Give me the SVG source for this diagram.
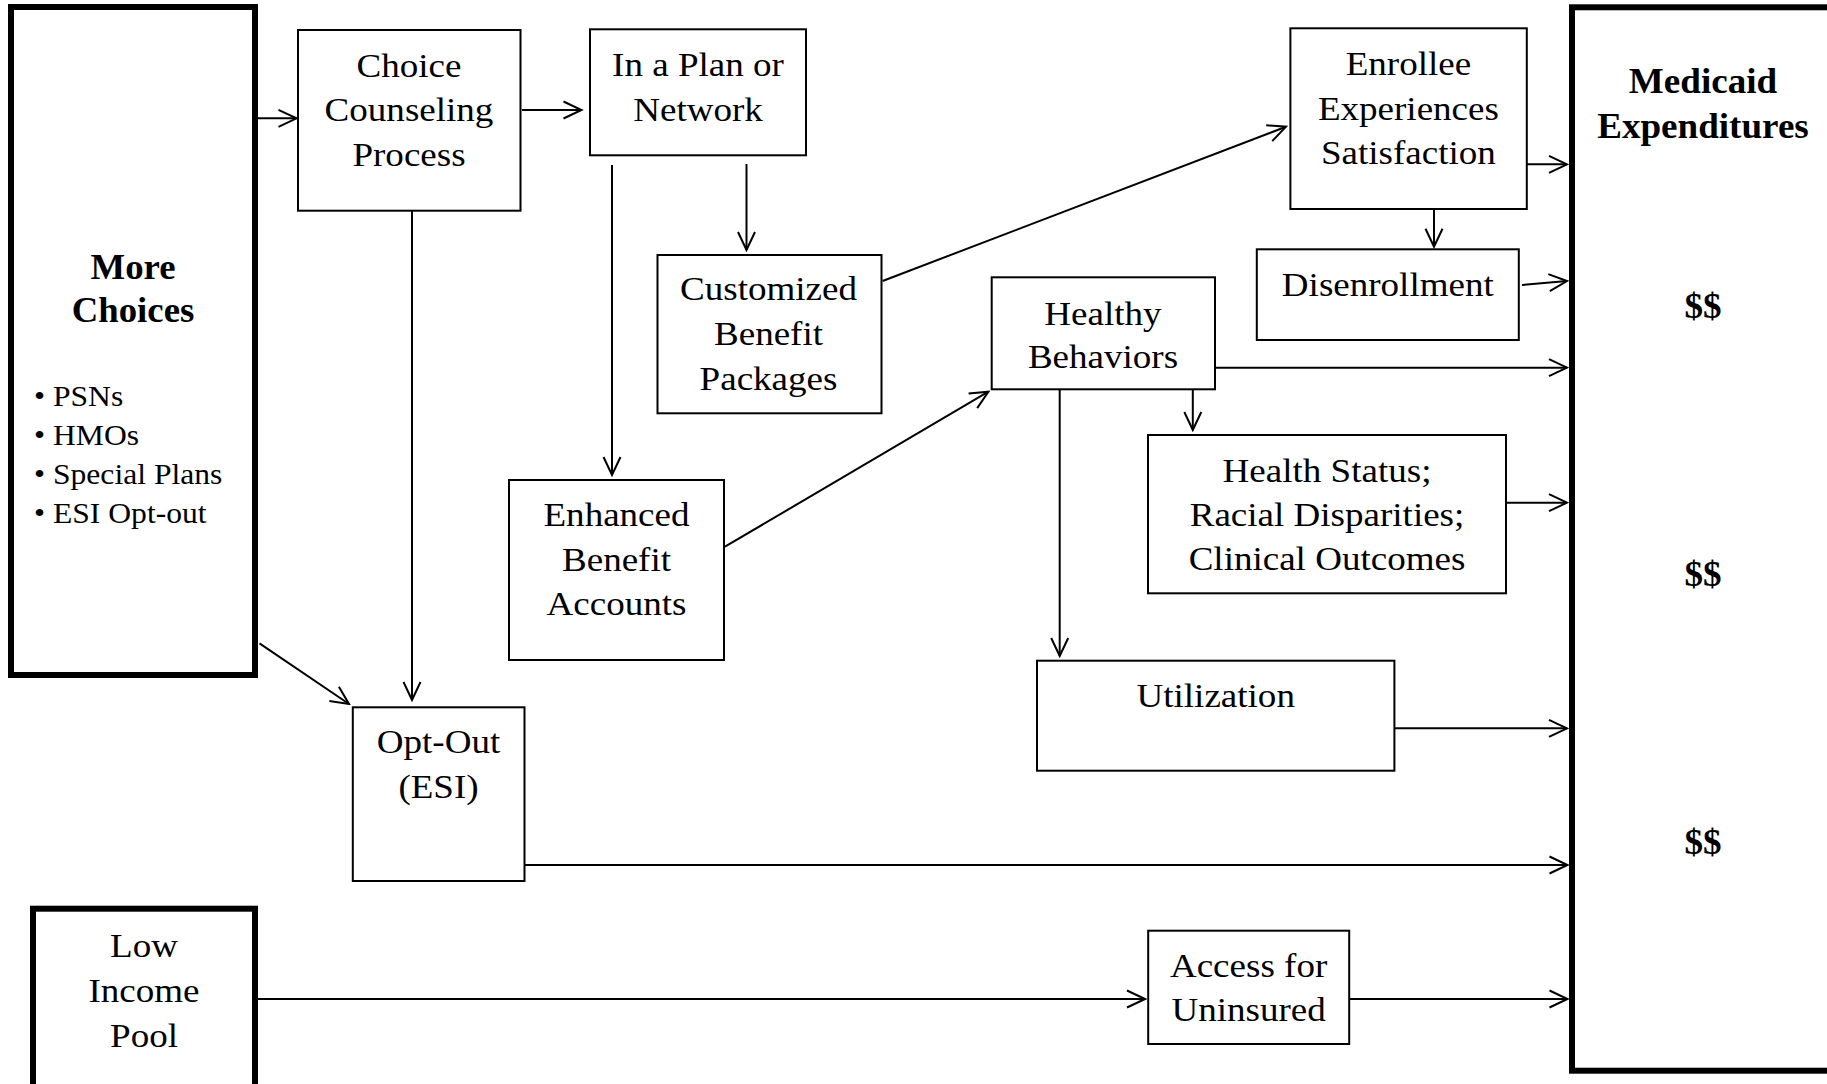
<svg xmlns="http://www.w3.org/2000/svg" width="1827" height="1084" viewBox="0 0 1827 1084">
<style>
  rect.box { fill: #fff; stroke: #000; stroke-width: 2; }
  rect.thick { fill: #fff; stroke: #000; stroke-width: 6; }
  text { font-family: "Liberation Serif", "Times New Roman", serif; fill: #000; }
  .t { font-size: 34px; text-anchor: middle; }
  .b { font-size: 35px; font-weight: bold; text-anchor: middle; }
  .bl { font-size: 29px; text-anchor: start; }
  #connectors line { stroke: #000; stroke-width: 2; fill: none; marker-end: url(#arr); }
</style>
<defs>
  <marker id="arr" markerUnits="userSpaceOnUse" viewBox="-21 -11 23 22" refX="0" refY="0" markerWidth="23" markerHeight="22" orient="auto">
    <path d="M-18,-8.5 L0,0 L-18,8.5" fill="none" stroke="#000" stroke-width="2"/>
  </marker>
</defs>
<rect x="0" y="0" width="1827" height="1084" fill="#fff"/>

<g id="connectors">
  <line x1="257" y1="118.3" x2="296.5" y2="118.3"/>
  <line x1="522" y1="110" x2="581.5" y2="110"/>
  <line x1="612" y1="165" x2="612" y2="475"/>
  <line x1="746.5" y1="164" x2="746.5" y2="250"/>
  <line x1="882.6" y1="281" x2="1286" y2="126.7"/>
  <line x1="725" y1="546.7" x2="988.4" y2="391.7"/>
  <line x1="412" y1="210.7" x2="412" y2="700"/>
  <line x1="259.5" y1="643.3" x2="349" y2="704"/>
  <line x1="1527" y1="164.3" x2="1567" y2="164.3"/>
  <line x1="1434" y1="209" x2="1434" y2="246.7"/>
  <line x1="1522" y1="285" x2="1567" y2="281"/>
  <line x1="1215" y1="367.7" x2="1567" y2="367.7"/>
  <line x1="1192.8" y1="389.3" x2="1192.8" y2="430"/>
  <line x1="1059.7" y1="389.3" x2="1059.7" y2="656"/>
  <line x1="1506" y1="502.7" x2="1567" y2="502.7"/>
  <line x1="1394.4" y1="728.3" x2="1567" y2="728.3"/>
  <line x1="524.6" y1="865" x2="1567.5" y2="865"/>
  <line x1="258" y1="999" x2="1145" y2="999"/>
  <line x1="1349" y1="999" x2="1567.5" y2="999"/>
</g>

<g id="more_choices">
  <rect class="thick" x="11" y="7" width="244" height="668"/>
  <g transform="translate(133 0) scale(1.05 1)">
    <text class="b" x="0" y="279.3">More</text>
    <text class="b" x="0" y="321.7">Choices</text>
  </g>
  <g transform="translate(34 0) scale(1.09 1)">
    <text class="bl" x="0" y="406">• PSNs</text>
    <text class="bl" x="0" y="445">• HMOs</text>
    <text class="bl" x="0" y="484">• Special Plans</text>
    <text class="bl" x="0" y="523">• ESI Opt-out</text>
  </g>
</g>

<g id="choice_counseling">
  <rect class="box" x="298" y="30" width="222.5" height="180.7"/>
  <g transform="translate(409 0) scale(1.09 1)">
    <text class="t" x="0" y="77">Choice</text>
    <text class="t" x="0" y="121.5">Counseling</text>
    <text class="t" x="0" y="166">Process</text>
  </g>
</g>

<g id="plan_network">
  <rect class="box" x="590" y="29.3" width="216" height="126"/>
  <g transform="translate(698 0) scale(1.09 1)">
    <text class="t" x="0" y="76">In a Plan or</text>
    <text class="t" x="0" y="120.7">Network</text>
  </g>
</g>

<g id="customized_benefit">
  <rect class="box" x="657.5" y="255" width="224" height="158.3"/>
  <g transform="translate(768.5 0) scale(1.09 1)">
    <text class="t" x="0" y="300">Customized</text>
    <text class="t" x="0" y="345">Benefit</text>
    <text class="t" x="0" y="390">Packages</text>
  </g>
</g>

<g id="enhanced_benefit">
  <rect class="box" x="509" y="480" width="215" height="180"/>
  <g transform="translate(616.5 0) scale(1.09 1)">
    <text class="t" x="0" y="526">Enhanced</text>
    <text class="t" x="0" y="570.7">Benefit</text>
    <text class="t" x="0" y="615">Accounts</text>
  </g>
</g>

<g id="healthy_behaviors">
  <rect class="box" x="991.7" y="277.3" width="223.3" height="112"/>
  <g transform="translate(1103 0) scale(1.09 1)">
    <text class="t" x="0" y="325">Healthy</text>
    <text class="t" x="0" y="368.3">Behaviors</text>
  </g>
</g>

<g id="enrollee_experiences">
  <rect class="box" x="1290.4" y="28.3" width="236.4" height="180.7"/>
  <g transform="translate(1408.4 0) scale(1.09 1)">
    <text class="t" x="0" y="75">Enrollee</text>
    <text class="t" x="0" y="120">Experiences</text>
    <text class="t" x="0" y="164.3">Satisfaction</text>
  </g>
</g>

<g id="disenrollment">
  <rect class="box" x="1256.8" y="249.3" width="262" height="90.7"/>
  <g transform="translate(1387.8 0) scale(1.09 1)">
    <text class="t" x="0" y="296">Disenrollment</text>
  </g>
</g>

<g id="health_status">
  <rect class="box" x="1148" y="435" width="358" height="158.3"/>
  <g transform="translate(1327 0) scale(1.09 1)">
    <text class="t" x="0" y="481.7">Health Status;</text>
    <text class="t" x="0" y="526">Racial Disparities;</text>
    <text class="t" x="0" y="570">Clinical Outcomes</text>
  </g>
</g>

<g id="utilization">
  <rect class="box" x="1037" y="660.7" width="357.4" height="110"/>
  <g transform="translate(1215.7 0) scale(1.09 1)">
    <text class="t" x="0" y="706.7">Utilization</text>
  </g>
</g>

<g id="opt_out">
  <rect class="box" x="352.8" y="707.3" width="171.7" height="173.7"/>
  <g transform="translate(438.5 0) scale(1.09 1)">
    <text class="t" x="0" y="753.3">Opt-Out</text>
    <text class="t" x="0" y="797.8">(ESI)</text>
  </g>
</g>

<g id="low_income_pool">
  <rect class="thick" x="33" y="908.7" width="222" height="200"/>
  <g transform="translate(144 0) scale(1.09 1)">
    <text class="t" x="0" y="956.7">Low</text>
    <text class="t" x="0" y="1001.7">Income</text>
    <text class="t" x="0" y="1046.7">Pool</text>
  </g>
</g>

<g id="access_uninsured">
  <rect class="box" x="1148.2" y="930.7" width="201" height="113.3"/>
  <g transform="translate(1248.6 0) scale(1.09 1)">
    <text class="t" x="0" y="977.3">Access for</text>
    <text class="t" x="0" y="1020.7">Uninsured</text>
  </g>
</g>

<g id="medicaid_expenditures">
  <rect class="thick" x="1572" y="7.3" width="280" height="1063.4"/>
  <g transform="translate(1703 0) scale(1.06 1)">
    <text class="b" x="0" y="93.3">Medicaid</text>
    <text class="b" x="0" y="137.7">Expenditures</text>
    <text class="b" x="0" y="318">$$</text>
    <text class="b" x="0" y="586">$$</text>
    <text class="b" x="0" y="854">$$</text>
  </g>
</g>
</svg>
